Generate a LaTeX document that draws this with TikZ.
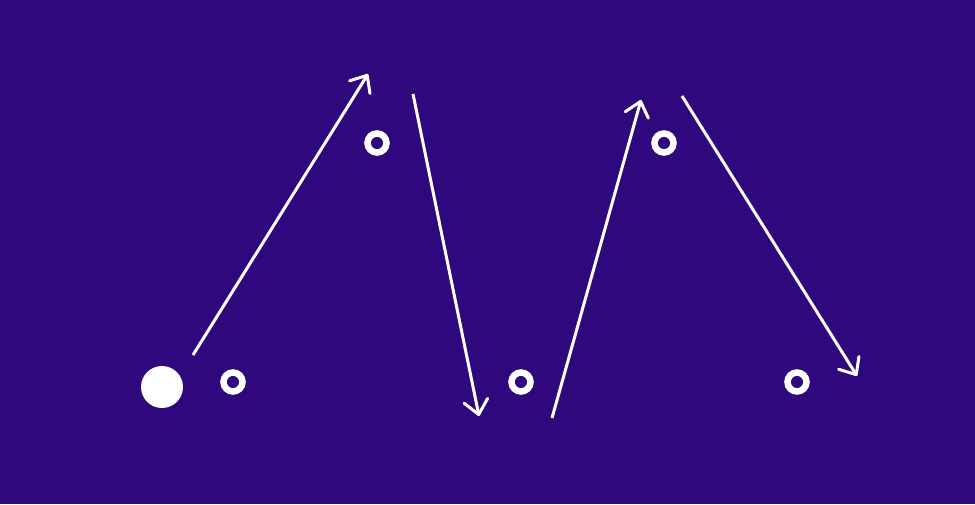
\documentclass[tikz,border=0pt]{standalone}
\usetikzlibrary{arrows.meta}
\definecolor{bgpurple}{RGB}{46,8,124}
\begin{document}
\begin{tikzpicture}[x=1pt,y=-1pt,
  ring/.style={circle,draw=white,line width=6.5pt,minimum size=19pt,inner sep=0pt},
  dot/.style={circle,fill=white,minimum size=42pt,inner sep=0pt},
  move/.style={white,line width=3pt,-{Straight Barb[length=14pt,width=24pt,line width=3pt,round]}}]
\fill[bgpurple] (0,0) rectangle (975,504);
\useasboundingbox (0,0) rectangle (975,504);
\node[dot] (ball) at (162,387) {};
\node[ring] (r1) at (233,382) {};
\node[ring] (r2) at (377,143) {};
\node[ring] (r3) at (521,382) {};
\node[ring] (r4) at (664,143) {};
\node[ring] (r5) at (797,382) {};
\coordinate (a1s) at (193,355);
\coordinate (a1e) at (368,74);
\coordinate (a2s) at (413,94);
\coordinate (a2e) at (479,416);
\coordinate (a3s) at (552,418);
\coordinate (a3e) at (641,100);
\coordinate (a4s) at (682,96);
\coordinate (a4e) at (857,376);
\draw[move] (a1s) -- (a1e);
\draw[move] (a2s) -- (a2e);
\draw[move] (a3s) -- (a3e);
\draw[move] (a4s) -- (a4e);
\end{tikzpicture}
\end{document}
